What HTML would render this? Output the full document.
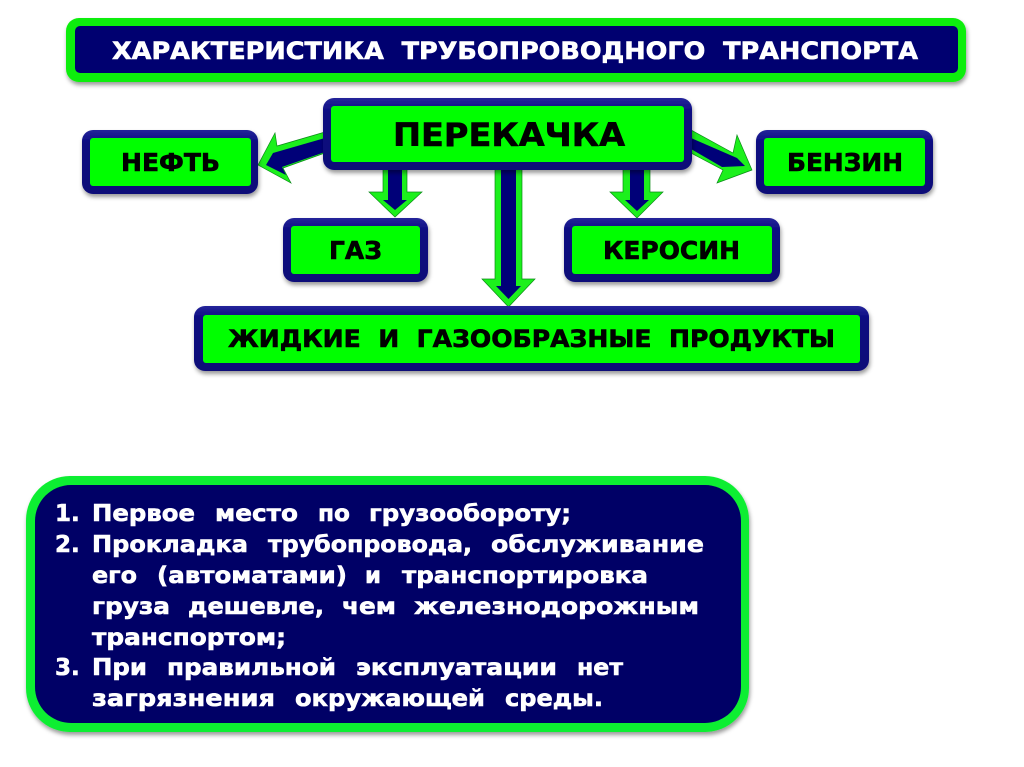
<!DOCTYPE html>
<html lang="ru"><head><meta charset="utf-8"><title>Характеристика трубопроводного транспорта</title>
<style>
html,body{margin:0;padding:0;background:#fff;width:1024px;height:767px;overflow:hidden}
svg{display:block}
text{font-family:"DejaVu Sans","Liberation Sans",sans-serif;font-weight:700;white-space:pre}
.w{fill:#fff;stroke:#fff;stroke-width:.6;font-size:23px}
.k{fill:#000;stroke:#000;stroke-width:.6}
</style></head><body>
<svg width="1024" height="767" viewBox="0 0 1024 767" xmlns="http://www.w3.org/2000/svg">
<defs>
<filter id="s" x="-10%" y="-20%" width="120%" height="140%"><feDropShadow dx="1" dy="3" stdDeviation="2" flood-color="#000" flood-opacity=".4"/></filter>
<filter id="b" x="-5%" y="-5%" width="110%" height="110%"><feGaussianBlur stdDeviation=".35"/></filter>
<linearGradient id="n" x1="0" y1="0" x2="0" y2="1"><stop offset="0" stop-color="#25259a"/><stop offset=".2" stop-color="#0a0a80"/><stop offset="1" stop-color="#0a0a78"/></linearGradient>
</defs>

<g filter="url(#s)">
<rect x="66" y="18" width="900" height="64" rx="13" fill="#11ee11"/>
<rect x="75" y="26" width="883" height="47" rx="5" fill="#000070"/>
</g>
<text x="112" y="59" class="w" style="font-size:24px" textLength="806" lengthAdjust="spacingAndGlyphs">ХАРАКТЕРИСТИКА  ТРУБОПРОВОДНОГО  ТРАНСПОРТА</text>

<!-- arrows -->
<g filter="url(#b)">
<polygon points="258,165 275,133 277,146 325,132 325,153 283,168 291,183" fill="#1af01a" stroke="#0b8a1a" stroke-width=".7"/>
<polygon points="266,165 273,153 325,138 325,152 282,167 286,175" fill="#000078"/>
<polygon points="752,170 737,135 733,153 691,130 691,153 723,170 717,183" fill="#1af01a" stroke="#0b8a1a" stroke-width=".7"/>
<polygon points="691,138 737,158 745,166 722,167 691,149" fill="#000078"/>
<polygon points="383,168 407,168 407,192 422,192 395,217 369,192 383,192" fill="#1af01a" stroke="#0b8a1a" stroke-width=".7"/>
<polygon points="388,168 402,168 402,200 407,200 395,210 383,200 388,200" fill="#000078"/>
<polygon points="623,168 650,168 650,192 663,192 637,218 610,192 623,192" fill="#1af01a" stroke="#0b8a1a" stroke-width=".7"/>
<polygon points="630,168 644,168 644,200 649,200 637,211 625,200 630,200" fill="#000078"/>
<polygon points="495,168 522,168 522,279 535,279 508.500,307 482,279 495,279" fill="#1af01a" stroke="#0b8a1a" stroke-width=".7"/>
<polygon points="501,168 516,168 516,286 521,286 508.500,299 496,286 501,286" fill="#000078"/>
</g>

<!-- green boxes -->
<g filter="url(#s)">
<rect x="323" y="98" width="369" height="72" rx="11" fill="url(#n)"/>
<rect x="331" y="106" width="353" height="56" rx="3" fill="#00ff00"/>
<rect x="82" y="130" width="176" height="64" rx="11" fill="url(#n)"/>
<rect x="90" y="138" width="161" height="48" rx="3" fill="#00ff00"/>
<rect x="756" y="130" width="177" height="64" rx="11" fill="url(#n)"/>
<rect x="764" y="138" width="161" height="48" rx="3" fill="#00ff00"/>
<rect x="283" y="218" width="145" height="64" rx="11" fill="url(#n)"/>
<rect x="291" y="226" width="129" height="48" rx="3" fill="#00ff00"/>
<rect x="564" y="218" width="216" height="64" rx="11" fill="url(#n)"/>
<rect x="572" y="226" width="200" height="48" rx="3" fill="#00ff00"/>
<rect x="194" y="306" width="675" height="65" rx="11" fill="url(#n)"/>
<rect x="203" y="315" width="657" height="48" rx="3" fill="#00ff00"/>
</g>

<text x="393" y="146" class="k" style="font-size:32px" textLength="232" lengthAdjust="spacingAndGlyphs">ПЕРЕКАЧКА</text>
<text x="121" y="171" class="k" style="font-size:25px" textLength="99" lengthAdjust="spacingAndGlyphs">НЕФТЬ</text>
<text x="787" y="171" class="k" style="font-size:25px" textLength="116" lengthAdjust="spacingAndGlyphs">БЕНЗИН</text>
<text x="329" y="259" class="k" style="font-size:25px" textLength="53" lengthAdjust="spacingAndGlyphs">ГАЗ</text>
<text x="603" y="259" class="k" style="font-size:25px" textLength="137" lengthAdjust="spacingAndGlyphs">КЕРОСИН</text>
<text x="228" y="347" class="k" style="font-size:24px" textLength="607" lengthAdjust="spacingAndGlyphs">ЖИДКИЕ  И  ГАЗООБРАЗНЫЕ  ПРОДУКТЫ</text>

<!-- bottom box -->
<g filter="url(#s)">
<rect x="26" y="476" width="723" height="256" rx="44" fill="#11ee33"/>
<rect x="35" y="485" width="706" height="238" rx="36" fill="#000066"/>
</g>
<text x="55" y="521" class="w">1.</text>
<text x="92" y="521" class="w" textLength="103" lengthAdjust="spacingAndGlyphs">Первое</text>
<text x="215" y="521" class="w" textLength="83" lengthAdjust="spacingAndGlyphs">место</text>
<text x="318" y="521" class="w" textLength="32" lengthAdjust="spacingAndGlyphs">по</text>
<text x="369" y="521" class="w" textLength="202" lengthAdjust="spacingAndGlyphs">грузообороту;</text>

<text x="55" y="552" class="w">2.</text>
<text x="92" y="552" class="w" textLength="156" lengthAdjust="spacingAndGlyphs">Прокладка</text>
<text x="268" y="552" class="w" textLength="204" lengthAdjust="spacingAndGlyphs">трубопровода,</text>
<text x="491" y="552" class="w" textLength="213" lengthAdjust="spacingAndGlyphs">обслуживание</text>

<text x="92" y="583" class="w" textLength="45" lengthAdjust="spacingAndGlyphs">его</text>
<text x="157" y="583" class="w" textLength="190" lengthAdjust="spacingAndGlyphs">(автоматами)</text>
<text x="365" y="583" class="w" textLength="16" lengthAdjust="spacingAndGlyphs">и</text>
<text x="402" y="583" class="w" textLength="246" lengthAdjust="spacingAndGlyphs">транспортировка</text>

<text x="92" y="614" class="w" textLength="78" lengthAdjust="spacingAndGlyphs">груза</text>
<text x="188" y="614" class="w" textLength="136" lengthAdjust="spacingAndGlyphs">дешевле,</text>
<text x="342" y="614" class="w" textLength="54" lengthAdjust="spacingAndGlyphs">чем</text>
<text x="414" y="614" class="w" textLength="285" lengthAdjust="spacingAndGlyphs">железнодорожным</text>

<text x="92" y="645" class="w" textLength="194" lengthAdjust="spacingAndGlyphs">транспортом;</text>

<text x="55" y="675" class="w">3.</text>
<text x="92" y="675" class="w" textLength="55" lengthAdjust="spacingAndGlyphs">При</text>
<text x="167" y="675" class="w" textLength="169" lengthAdjust="spacingAndGlyphs">правильной</text>
<text x="356" y="675" class="w" textLength="201" lengthAdjust="spacingAndGlyphs">эксплуатации</text>
<text x="577" y="675" class="w" textLength="46" lengthAdjust="spacingAndGlyphs">нет</text>

<text x="92" y="706" class="w" textLength="183" lengthAdjust="spacingAndGlyphs">загрязнения</text>
<text x="295" y="706" class="w" textLength="190" lengthAdjust="spacingAndGlyphs">окружающей</text>
<text x="505" y="706" class="w" textLength="98" lengthAdjust="spacingAndGlyphs">среды.</text>
</svg>
</body></html>
